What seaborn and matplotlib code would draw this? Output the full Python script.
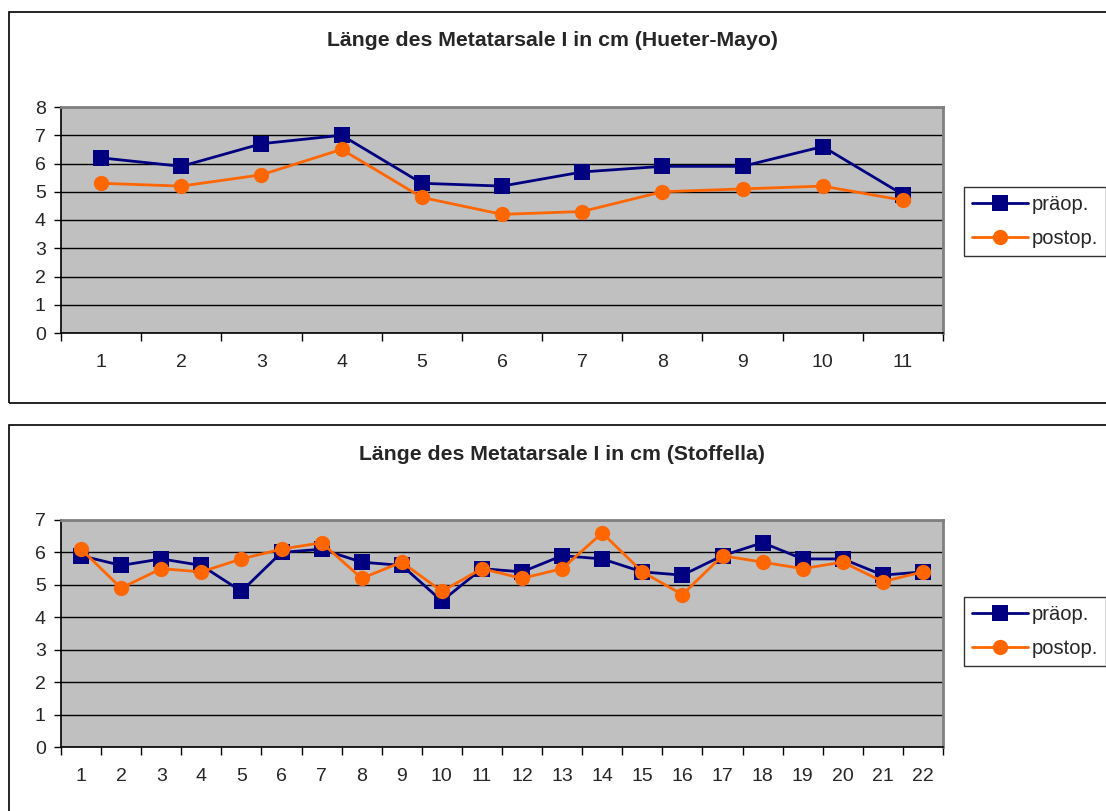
import numpy as np
import pandas as pd
import matplotlib
matplotlib.use("Agg")
import matplotlib.pyplot as plt
from matplotlib.patches import Rectangle
import seaborn as sns

# Hueter-Mayo group (11 patients)
hm_patients = list(range(1, 12))
hm_praeop = [6.2, 5.9, 6.7, 7.0, 5.3, 5.2, 5.7, 5.9, 5.9, 6.6, 4.9]
hm_postop = [5.3, 5.2, 5.6, 6.5, 4.8, 4.2, 4.3, 5.0, 5.1, 5.2, 4.7]

# Stoffella group (22 patients)
st_patients = list(range(1, 23))
st_praeop = [5.9, 5.6, 5.8, 5.6, 4.8, 6.0, 6.1, 5.7, 5.6, 4.5, 5.5,
             5.4, 5.9, 5.8, 5.4, 5.3, 5.9, 6.3, 5.8, 5.8, 5.3, 5.4]
st_postop = [6.1, 4.9, 5.5, 5.4, 5.8, 6.1, 6.3, 5.2, 5.7, 4.8, 5.5,
             5.2, 5.5, 6.6, 5.4, 4.7, 5.9, 5.7, 5.5, 5.7, 5.1, 5.4]

series_names = ["präop.", "postop."]
titles = ["Länge des Metatarsale I in cm (Hueter-Mayo)",
          "Länge des Metatarsale I in cm (Stoffella)"]
y_max = [8, 7]

sns.set_theme(style="white")
plt.rcParams["font.family"] = ["Liberation Sans", "DejaVu Sans"]

palette = {"präop.": "#000080", "postop.": "#FF6600"}
markers = {"präop.": "s", "postop.": "o"}

W, H = 1106, 811
fig = plt.figure(figsize=(W / 100, H / 100), dpi=100)

def fx(px):
    return px / W

def fy(py):
    return 1 - py / H

# chart frames
for top, bottom in [(12, 403), (425, 830)]:
    fig.patches.append(Rectangle((fx(9), fy(bottom)), fx(1200) - fx(9), fy(top) - fy(bottom),
                                 transform=fig.transFigure, fill=False,
                                 edgecolor="black", linewidth=1.2, zorder=0))

layouts = [
    dict(box=(61, 107, 943, 333), title_xy=(552, 41), legend_xy=(964, 187)),
    dict(box=(61, 520, 943, 747), title_xy=(562, 454), legend_xy=(964, 597)),
]
datasets = [
    (hm_patients, hm_praeop, hm_postop),
    (st_patients, st_praeop, st_postop),
]

for i, (lay, (pts, pre, post)) in enumerate(zip(layouts, datasets)):
    x0, y0, x1, y1 = lay["box"]
    ax = fig.add_axes([fx(x0), fy(y1), fx(x1) - fx(x0), fy(y0) - fy(y1)])
    ax.set_facecolor("#C0C0C0")

    df = pd.DataFrame({
        "Patient": pts * 2,
        "Länge": pre + post,
        "Zeitpunkt": [series_names[0]] * len(pts) + [series_names[1]] * len(pts),
    })
    sns.lineplot(data=df, x="Patient", y="Länge", hue="Zeitpunkt", style="Zeitpunkt",
                 palette=palette, markers=markers, dashes=False, ax=ax,
                 linewidth=2.0, markersize=11, markeredgewidth=0, legend=True,
                 zorder=3)
    handles, labels = ax.get_legend_handles_labels()
    ax.get_legend().remove()

    n = len(pts)
    ax.set_xlim(0.5, n + 0.5)
    ax.set_ylim(0, y_max[i])
    ax.set_yticks(range(0, y_max[i] + 1))
    ax.set_xticks(np.arange(0.5, n + 1, 1.0))
    ax.set_xticklabels([])
    ax.set_xticks(pts, minor=True)
    ax.set_xticklabels([str(p) for p in pts], minor=True)
    ax.tick_params(axis="x", which="major", direction="out", length=6, width=1,
                   color="black", bottom=True)
    ax.tick_params(axis="x", which="minor", length=0, pad=15, labelsize=14)
    ax.tick_params(axis="y", direction="out", length=5, width=1, color="black",
                   left=True, labelsize=14, pad=6)
    ax.yaxis.grid(True, color="black", linewidth=1.0)
    ax.set_axisbelow(True)
    ax.set_xlabel("")
    ax.set_ylabel("")
    for side in ["left", "bottom"]:
        ax.spines[side].set_color("black")
        ax.spines[side].set_linewidth(1.2)
    for side in ["top", "right"]:
        ax.spines[side].set_visible(True)
        ax.spines[side].set_color("#808080")
        ax.spines[side].set_linewidth(2)

    tx, ty = lay["title_xy"]
    fig.text(fx(tx), fy(ty), titles[i], ha="center", va="center",
             fontsize=15.3, fontweight="bold")

    lx, ly = lay["legend_xy"]
    leg = fig.legend(handles, labels, loc="upper left",
                     bbox_to_anchor=(fx(lx), fy(ly)), bbox_transform=fig.transFigure,
                     fontsize=14.5, frameon=True, fancybox=False, edgecolor="black",
                     handlelength=2.8, handletextpad=0.15, borderpad=0.4,
                     borderaxespad=0, labelspacing=0.75)
    leg.get_frame().set_linewidth(1.0)

fig.savefig("out.png", dpi=100, facecolor="white")
